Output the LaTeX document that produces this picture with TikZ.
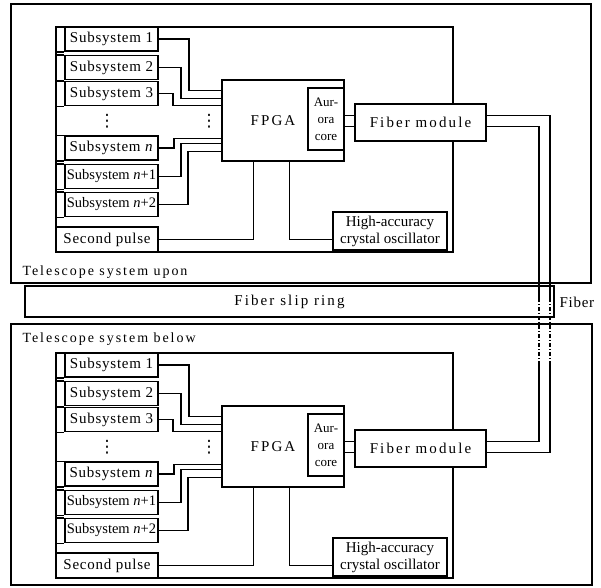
\documentclass[tikz,border=0pt]{standalone}
\usepackage{fontspec}
\setmainfont{Liberation Serif}
\newfontfamily\spaced[LetterSpace=14]{Liberation Serif}
\newfontfamily\slight[LetterSpace=5]{Liberation Serif}
\newfontfamily\symfont{DejaVu Sans}
\usetikzlibrary{calc}
\tikzset{box/.style = {draw, line width=1.5pt, fill=white, inner sep=0pt}}
\tikzset{sub/.style = {box, minimum width=93pt, minimum height=24pt,
                       font=\fontsize{15}{15}\slight}}
\tikzset{wire/.style = {line width=1.5pt}}
\tikzset{fiberdash/.style = {line width=1.5pt, dash pattern=on 4pt off 2pt on 1pt off 2pt}}
\tikzset{vdot/.style = {inner sep=0pt, font=\fontsize{17}{17}\symfont}}

\begin{document}
\begin{tikzpicture}[x=1pt, y=-1pt]
        \useasboundingbox (0,0) rectangle (601,587);
        % the two telescope systems
        \draw [wire] (11,4) rectangle (591,283);
        \draw [wire] (11,324) rectangle (592,585);
        \node [anchor=west, font=\fontsize{14}{14}\spaced] (upon) at (19,272) {Telescope system upon};
        \node [anchor=west, font=\fontsize{14}{14}\spaced] (below) at (19,339) {Telescope system below};
        \node [box, minimum width=529pt, minimum height=31pt, font=\fontsize{15}{15}\spaced] (ring) at (289.5,301.5) {Fiber slip ring};
        \node [anchor=west, font=\fontsize{15}{15}\slight] (fibtxt) at (556,302) {Fiber};
        \foreach \pre/\dy in {up/0, dn/326} {
          \begin{scope}[yshift=-\dy pt, name prefix=\pre-]
            \draw [wire] (56,27) rectangle (453,252);
            \node [sub] (s1) at (111.5,39) {Subsystem 1};
            \node [sub] (s2) at (111.5,67.5) {Subsystem 2};
            \node [sub] (s3) at (111.5,93.5) {Subsystem 3};
            \node [sub] (sn) at (111.5,148) {Subsystem \textit{n}};
            \node [sub, font=\fontsize{14.5}{15}\selectfont] (sn1) at (111.5,176.5) {Subsystem \textit{n}+1};
            \node [sub, font=\fontsize{14.5}{15}\selectfont] (sn2) at (111.5,204.5) {Subsystem \textit{n}+2};
            \foreach \s in {s1, s2, s3, sn, sn1, sn2}
              \draw [wire] (\s.north west) -- ++(-9,0) |- (\s.south west);
            \node [box, minimum width=102pt, minimum height=25pt, font=\fontsize{15}{15}\slight] (sp) at (107,239.5) {Second pulse};
            \node [vdot] (d1) at (107,121) {⋮};
            \node [vdot] (d2) at (209,121) {⋮};
            \node [box, minimum width=122pt, minimum height=81pt,
                   label={[font=\fontsize{15}{15}\spaced, xshift=-10pt]center:FPGA}] (fpga) at (283,120.5) {};
            \node [box, minimum width=36pt, minimum height=62pt, align=center,
                   font=\fontsize{13}{17}\selectfont] (aur) at (326,119) {Aur-\\ora\\core};
            \node [box, minimum width=131pt, minimum height=37pt, font=\fontsize{15}{15}\spaced] (fib) at (420.5,122.5) {Fiber module};
            \node [box, minimum width=114pt, minimum height=38pt, align=center,
                   font=\fontsize{15}{17}\selectfont] (osc) at (390,231) {High-accuracy\\crystal oscillator};
            % subsystem buses
            \draw [wire] (s1.east) -- ++(30,0) |- ($(fpga.north west)+(0,11)$);
            \draw [wire] (s2.east) -- ++(22,0) |- ($(fpga.north west)+(0,19)$);
            \draw [wire] (s3.east) -- ++(14,0) |- ($(fpga.north west)+(0,26)$);
            \draw [wire] (sn.east) -- ++(15,0) |- ($(fpga.north west)+(0,59)$);
            \draw [wire] (sn1.east) -- ++(22,0) |- ($(fpga.north west)+(0,64)$);
            \draw [wire] (sn2.east) -- ++(29,0) |- ($(fpga.north west)+(0,72)$);
            \draw [wire] (sp.east) -| ($(fpga.south west)+(32,0)$);
            \draw [wire] ($(fpga.south west)+(68,0)$) |- (sp.east -| osc.west);
            % aurora to fiber module
            \coordinate (fi1) at ($(fib.north west)+(0,12)$);
            \coordinate (fi2) at ($(fib.north west)+(0,23)$);
            \draw [wire] (fi1) -- (fi1 -| aur.east);
            \draw [wire] (fi2) -- (fi2 -| aur.east);
            \coordinate (fo1) at ($(fib.north east)+(0,12)$);
            \coordinate (fo2) at ($(fib.north east)+(0,23)$);
          \end{scope}
        }
        % fiber through the slip ring
        \coordinate (brkA) at (550,298);
        \coordinate (brkB) at (539,298);
        \coordinate (resA) at (550,362);
        \coordinate (resB) at (539,362);
        \draw [wire] (up-fo1) -| (brkA);
        \draw [wire] (up-fo2) -| (brkB);
        \draw [fiberdash] (brkA) -- (resA);
        \draw [fiberdash] (brkB) -- (resB);
        \draw [wire] (resA) |- (dn-fo2);
        \draw [wire] (resB) |- (dn-fo1);
      \end{tikzpicture}
\end{document}
